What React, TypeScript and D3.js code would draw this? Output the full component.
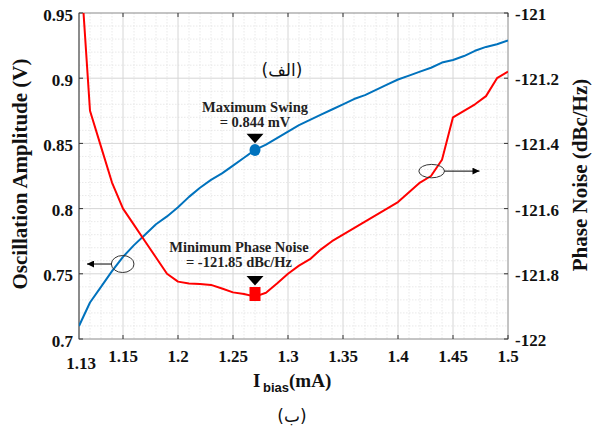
import React from "react";
import * as d3 from "d3";

const ibias = [1.11, 1.12, 1.13, 1.14, 1.15, 1.16, 1.17, 1.18, 1.19, 1.2, 1.21, 1.22, 1.23, 1.24, 1.25, 1.26, 1.27, 1.28, 1.29, 1.3, 1.31, 1.32, 1.33, 1.34, 1.35, 1.36, 1.37, 1.38, 1.39, 1.4, 1.41, 1.42, 1.43, 1.44, 1.45, 1.46, 1.47, 1.48, 1.49, 1.5];
const amplitude = [0.71, 0.728, 0.74, 0.752, 0.763, 0.772, 0.78, 0.788, 0.794, 0.801, 0.809, 0.816, 0.822, 0.827, 0.833, 0.839, 0.845, 0.849, 0.854, 0.859, 0.864, 0.868, 0.872, 0.876, 0.88, 0.884, 0.887, 0.891, 0.895, 0.899, 0.902, 0.905, 0.908, 0.912, 0.914, 0.917, 0.921, 0.924, 0.926, 0.929];
const phaseNoise = [-120.79, -121.3, -121.41, -121.52, -121.6, -121.65, -121.7, -121.75, -121.8, -121.824, -121.83, -121.831, -121.834, -121.845, -121.857, -121.862, -121.87, -121.858, -121.83, -121.8, -121.775, -121.755, -121.725, -121.7, -121.68, -121.66, -121.64, -121.62, -121.6, -121.58, -121.55, -121.52, -121.5, -121.45, -121.32, -121.3, -121.28, -121.255, -121.2, -121.18];

const xTicks = [1.15, 1.2, 1.25, 1.3, 1.35, 1.4, 1.45, 1.5];
const xTickLabels = ["1.15", "1.2", "1.25", "1.3", "1.35", "1.4", "1.45", "1.5"];
const yLeftTicks = [0.7, 0.75, 0.8, 0.85, 0.9, 0.95];
const yLeftLabels = ["0.7", "0.75", "0.8", "0.85", "0.9", "0.95"];
const yRightTicks = [-122, -121.8, -121.6, -121.4, -121.2, -121];
const yRightLabels = ["-122", "-121.8", "-121.6", "-121.4", "-121.2", "-121"];

const maxSwing = { x: 1.27, y: 0.845 };
const minNoise = { x: 1.27, y: -121.862 };

const W = 593, H = 430;
const L = 79, R = 508, T = 13, B = 339;
const serif = "'Liberation Serif', 'Times New Roman', serif";
const sans = "'Liberation Sans', Arial, sans-serif";
const arabic = "'DejaVu Sans', 'Noto Sans', sans-serif";

export default function App() {
  const x = d3.scaleLinear().domain([1.11, 1.5]).range([L, R]);
  const yL = d3.scaleLinear().domain([0.7, 0.95]).range([B, T]);
  const yR = d3.scaleLinear().domain([-122, -121]).range([B, T]);

  const minorX = d3.range(112, 150).map((v) => v / 100).filter((v) => Math.round(v * 100) % 5 !== 0);
  const minorY = d3.range(71, 95).map((v) => v / 100).filter((v) => Math.round(v * 100) % 5 !== 0);
  const majorX = xTicks.filter((v) => v < 1.5);
  const majorY = yLeftTicks.filter((v) => v > 0.7 && v < 0.95);

  const ampLine = d3.line<number>().x((_, i) => x(ibias[i])).y((d) => yL(d))(amplitude) || "";
  const pnLine = d3.line<number>().x((_, i) => x(ibias[i])).y((d) => yR(d))(phaseNoise) || "";

  const bx = x(maxSwing.x), by = yL(maxSwing.y);
  const rx = x(minNoise.x), ry = yR(minNoise.y);

  const tri = (cx: number, bottom: number) =>
    `M${cx - 8.5},${bottom - 9.5}L${cx + 8.5},${bottom - 9.5}L${cx},${bottom}Z`;

  const e1 = { cx: x(1.1497), cy: yL(0.7575) };
  const e2 = { cx: x(1.4306), cy: yR(-121.485) };

  return (
    <svg width={W} height={H} style={{ position: "absolute", left: 0, top: 0, background: "#fff" }}>
      <defs>
        <clipPath id="plot">
          <rect x={L} y={T} width={R - L} height={B - T} />
        </clipPath>
        <marker id="ah" viewBox="0 0 10 10" refX="10" refY="5" markerWidth="8" markerHeight="7" markerUnits="userSpaceOnUse" orient="auto">
          <path d="M0,0L10,5L0,10Z" fill="#000" />
        </marker>
      </defs>
      <rect x={0} y={0} width={W} height={H} fill="#fff" />
      {/* minor grid */}
      <g stroke="#e3e3e3" strokeWidth={0.8} strokeDasharray="1.5,1.5">
        {minorX.map((v) => (
          <line key={"mx" + v} x1={x(v)} x2={x(v)} y1={T} y2={B} />
        ))}
        {minorY.map((v) => (
          <line key={"my" + v} x1={L} x2={R} y1={yL(v)} y2={yL(v)} />
        ))}
      </g>
      {/* major grid */}
      <g stroke="#d6d6d6" strokeWidth={1}>
        {majorX.map((v) => (
          <line key={"gx" + v} x1={x(v)} x2={x(v)} y1={T} y2={B} />
        ))}
        {majorY.map((v) => (
          <line key={"gy" + v} x1={L} x2={R} y1={yL(v)} y2={yL(v)} />
        ))}
      </g>
      {/* box */}
      <rect x={L} y={T} width={R - L} height={B - T} fill="none" stroke="#8a8a8a" strokeWidth={1} />
      <line x1={L} x2={L} y1={T} y2={B} stroke="#666" strokeWidth={1.2} />
      {/* ticks */}
      <g stroke="#333" strokeWidth={1}>
        {xTicks.map((v) => (
          <g key={"tx" + v}>
            <line x1={x(v)} x2={x(v)} y1={B} y2={B - 4} />
            <line x1={x(v)} x2={x(v)} y1={T} y2={T + 4} />
          </g>
        ))}
        {yLeftTicks.map((v) => (
          <line key={"tl" + v} x1={L} x2={L + 4} y1={yL(v)} y2={yL(v)} />
        ))}
        {yRightTicks.map((v) => (
          <line key={"tr" + v} x1={R} x2={R - 4} y1={yR(v)} y2={yR(v)} />
        ))}
      </g>
      {/* curves */}
      <g clipPath="url(#plot)" fill="none" strokeWidth={2} strokeLinejoin="round">
        <path d={ampLine} stroke="#0072BD" />
        <path d={pnLine} stroke="#FF0000" />
      </g>
      {/* markers */}
      <ellipse cx={bx} cy={by} rx={5.5} ry={6} fill="#0072BD" />
      <path d={tri(bx, by - 6.6)} fill="#000" />
      <rect x={rx - 5.5} y={ry - 7} width={11} height={14} fill="#FF0000" />
      <path d={tri(rx, ry - 8.5)} fill="#000" />
      {/* annotation text */}
      <g fontFamily={serif} fontWeight="bold" fontSize={14.5} fill="#222" textAnchor="middle">
        <text x={bx} y={111.5}>Maximum Swing</text>
        <text x={bx} y={127}>= 0.844 mV</text>
        <text x={rx - 16} y={251.5}>Minimum Phase Noise</text>
        <text x={rx - 16} y={267}>= -121.85 dBc/Hz</text>
      </g>
      {/* ellipses and arrows */}
      <ellipse cx={e1.cx} cy={e1.cy} rx={11.3} ry={8.5} fill="none" stroke="#333" strokeWidth={1} />
      <line x1={e1.cx - 11.3} y1={e1.cy} x2={87} y2={e1.cy} stroke="#000" strokeWidth={1} markerEnd="url(#ah)" />
      <ellipse cx={e2.cx} cy={e2.cy} rx={12.8} ry={6.7} fill="none" stroke="#333" strokeWidth={1} />
      <line x1={e2.cx + 12.8} y1={e2.cy} x2={479.5} y2={e2.cy} stroke="#000" strokeWidth={1} markerEnd="url(#ah)" />
      {/* tick labels */}
      <g fontFamily={serif} fontWeight="bold" fontSize={17} fill="#111">
        {yLeftTicks.map((v, i) => (
          <text key={"ll" + v} x={73} y={yL(v) + 7.5} textAnchor="end">{yLeftLabels[i]}</text>
        ))}
        {yRightTicks.map((v, i) => (
          <text key={"rl" + v} x={515} y={yR(v) + 7} textAnchor="start">{yRightLabels[i]}</text>
        ))}
        {xTicks.map((v, i) => (
          <text key={"xl" + v} x={x(v)} y={362} textAnchor="middle">{xTickLabels[i]}</text>
        ))}
        <text x={x(1.11) + 2} y={369} textAnchor="middle">1.13</text>
      </g>
      {/* axis labels */}
      <g fontFamily={serif} fontWeight="bold" fill="#111">
        <text fontSize={21} textAnchor="middle" transform={`translate(27,174) rotate(-90)`}>Oscillation Amplitude (V)</text>
        <text fontSize={21} textAnchor="middle" transform={`translate(587,175) rotate(-90)`}>Phase Noise (dBc/Hz)</text>
        <text fontSize={19} x={253} y={387}>I</text>
        <text fontSize={13} x={263} y={392} fontFamily={sans}>bias</text>
        <text fontSize={19} x={289} y={387}>(mA)</text>
      </g>
      <g fontFamily={arabic} fill="#111">
        <text x={282} y={76} fontSize={17} textAnchor="middle">(الف)</text>
        <text x={292} y={422} fontSize={17} textAnchor="middle">(ب)</text>
      </g>
    </svg>
  );
}
